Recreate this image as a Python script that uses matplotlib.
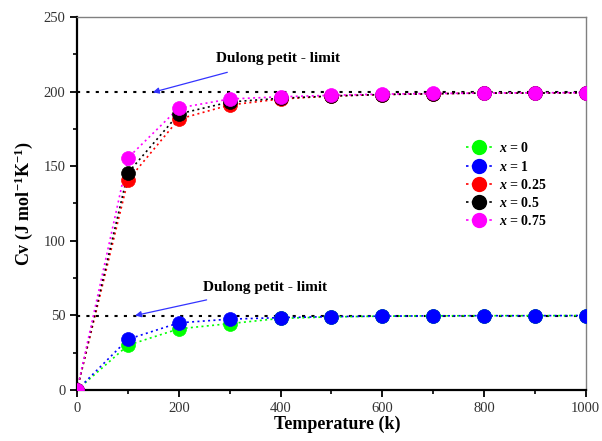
import matplotlib
matplotlib.use("Agg")
import matplotlib.pyplot as plt
from matplotlib.ticker import MultipleLocator
from matplotlib.lines import Line2D

plt.rcParams['font.family'] = ['Liberation Serif', 'DejaVu Serif']
plt.rcParams['mathtext.fontset'] = 'custom'
plt.rcParams['mathtext.rm'] = 'Liberation Serif:bold'
plt.rcParams['mathtext.it'] = 'Liberation Serif:italic:bold'
plt.rcParams['mathtext.bf'] = 'Liberation Serif:bold'

temperature = [0, 100, 200, 300, 400, 500, 600, 700, 800, 900, 1000]
cv_x0 = [0, 30, 41, 44.5, 48, 49, 49.5, 49.7, 49.8, 49.8, 49.9]
cv_x1 = [0, 34, 45, 47.5, 48.5, 49.2, 49.5, 49.7, 49.8, 49.8, 49.9]
cv_x025 = [0, 140.5, 181.5, 191, 195, 197, 198, 198.5, 199, 199, 199.2]
cv_x05 = [0, 145.5, 185, 193, 195.5, 197, 198, 198.5, 199, 199, 199.2]
cv_x075 = [0, 155.5, 189, 195, 196.5, 197.5, 198.3, 198.7, 199, 199.2, 199.3]
limit_high = 199.5
limit_low = 49.9
labels = ['$x$ = 0', '$x$ = 1', '$x$ = 0.25', '$x$ = 0.5', '$x$ = 0.75']
colors = ['#00ff00', '#0000ff', '#ff0000', '#000000', '#ff00ff']

fig = plt.figure(figsize=(6.02, 4.41), dpi=100)
ax = fig.add_axes([0.128, 0.1156, 0.845, 0.846])

# Dulong-Petit limit lines
ax.plot([0, 1000], [limit_high, limit_high], color='black', lw=1.5,
        linestyle=(0, (1.5, 3)), zorder=1)
ax.plot([0, 1000], [limit_low, limit_low], color='black', lw=1.5,
        linestyle=(0, (1.5, 3)), zorder=1)

series = [cv_x0, cv_x1, cv_x025, cv_x05, cv_x075]
handles = []
for ys, lab, c in zip(series, labels, colors):
    ax.plot(temperature, ys, linestyle=(0, (1.2, 2)), lw=1.2, color=c, zorder=2)
    sc = ax.scatter(temperature, ys, s=100, color=c, edgecolors=c, linewidths=0.5,
                    zorder=3, clip_on=True)
    sc.set_clip_path(ax.patch)
    handles.append(Line2D([], [], linestyle=(0, (1.5, 2)), lw=1.2, color=c,
                          marker='o', markersize=10, markerfacecolor=c,
                          markeredgecolor=c, label=lab))

ax.set_xlim(0, 1000)
ax.set_ylim(0, 250)
ax.xaxis.set_major_locator(MultipleLocator(200))
ax.xaxis.set_minor_locator(MultipleLocator(100))
ax.yaxis.set_major_locator(MultipleLocator(50))
ax.yaxis.set_minor_locator(MultipleLocator(25))
ax.tick_params(which='major', direction='out', length=5, width=1.3,
               labelsize=10.5, labelcolor='#333333', top=False, right=False)
ax.tick_params(which='minor', direction='out', length=3, width=1.2,
               top=False, right=False)
for s in ['left', 'bottom']:
    ax.spines[s].set_linewidth(1.6)
    ax.spines[s].set_color('black')
for s in ['top', 'right']:
    ax.spines[s].set_linewidth(1.0)
    ax.spines[s].set_color('#808080')

ax.set_xlabel('Temperature (k)', fontsize=13, fontweight='bold')
ax.xaxis.set_label_coords(0.512, -0.068)
ax.set_ylabel('Cv (J mol$^{-1}$K$^{-1}$)', fontsize=13, fontweight='bold', labelpad=6)

leg = ax.legend(handles=handles, loc='upper left', bbox_to_anchor=(0.74, 0.70),
                frameon=False, fontsize=10, handlelength=1.9, handletextpad=0.45,
                labelspacing=0.3, markerscale=1.0)
for t in leg.get_texts():
    t.set_fontweight('bold')

ax.annotate('Dulong petit - limit', xy=(149, limit_high), xytext=(395, 222),
            ha='center', va='center', fontsize=11, fontweight='bold',
            arrowprops=dict(arrowstyle='-|>', color='#3333ff', lw=0.9,
                            shrinkA=12, shrinkB=0, mutation_scale=9))
ax.annotate('Dulong petit - limit', xy=(114, limit_low), xytext=(370, 69),
            ha='center', va='center', fontsize=11, fontweight='bold',
            arrowprops=dict(arrowstyle='-|>', color='#3333ff', lw=0.9,
                            shrinkA=12, shrinkB=0, mutation_scale=9))

fig.savefig('out.png', dpi=100)
